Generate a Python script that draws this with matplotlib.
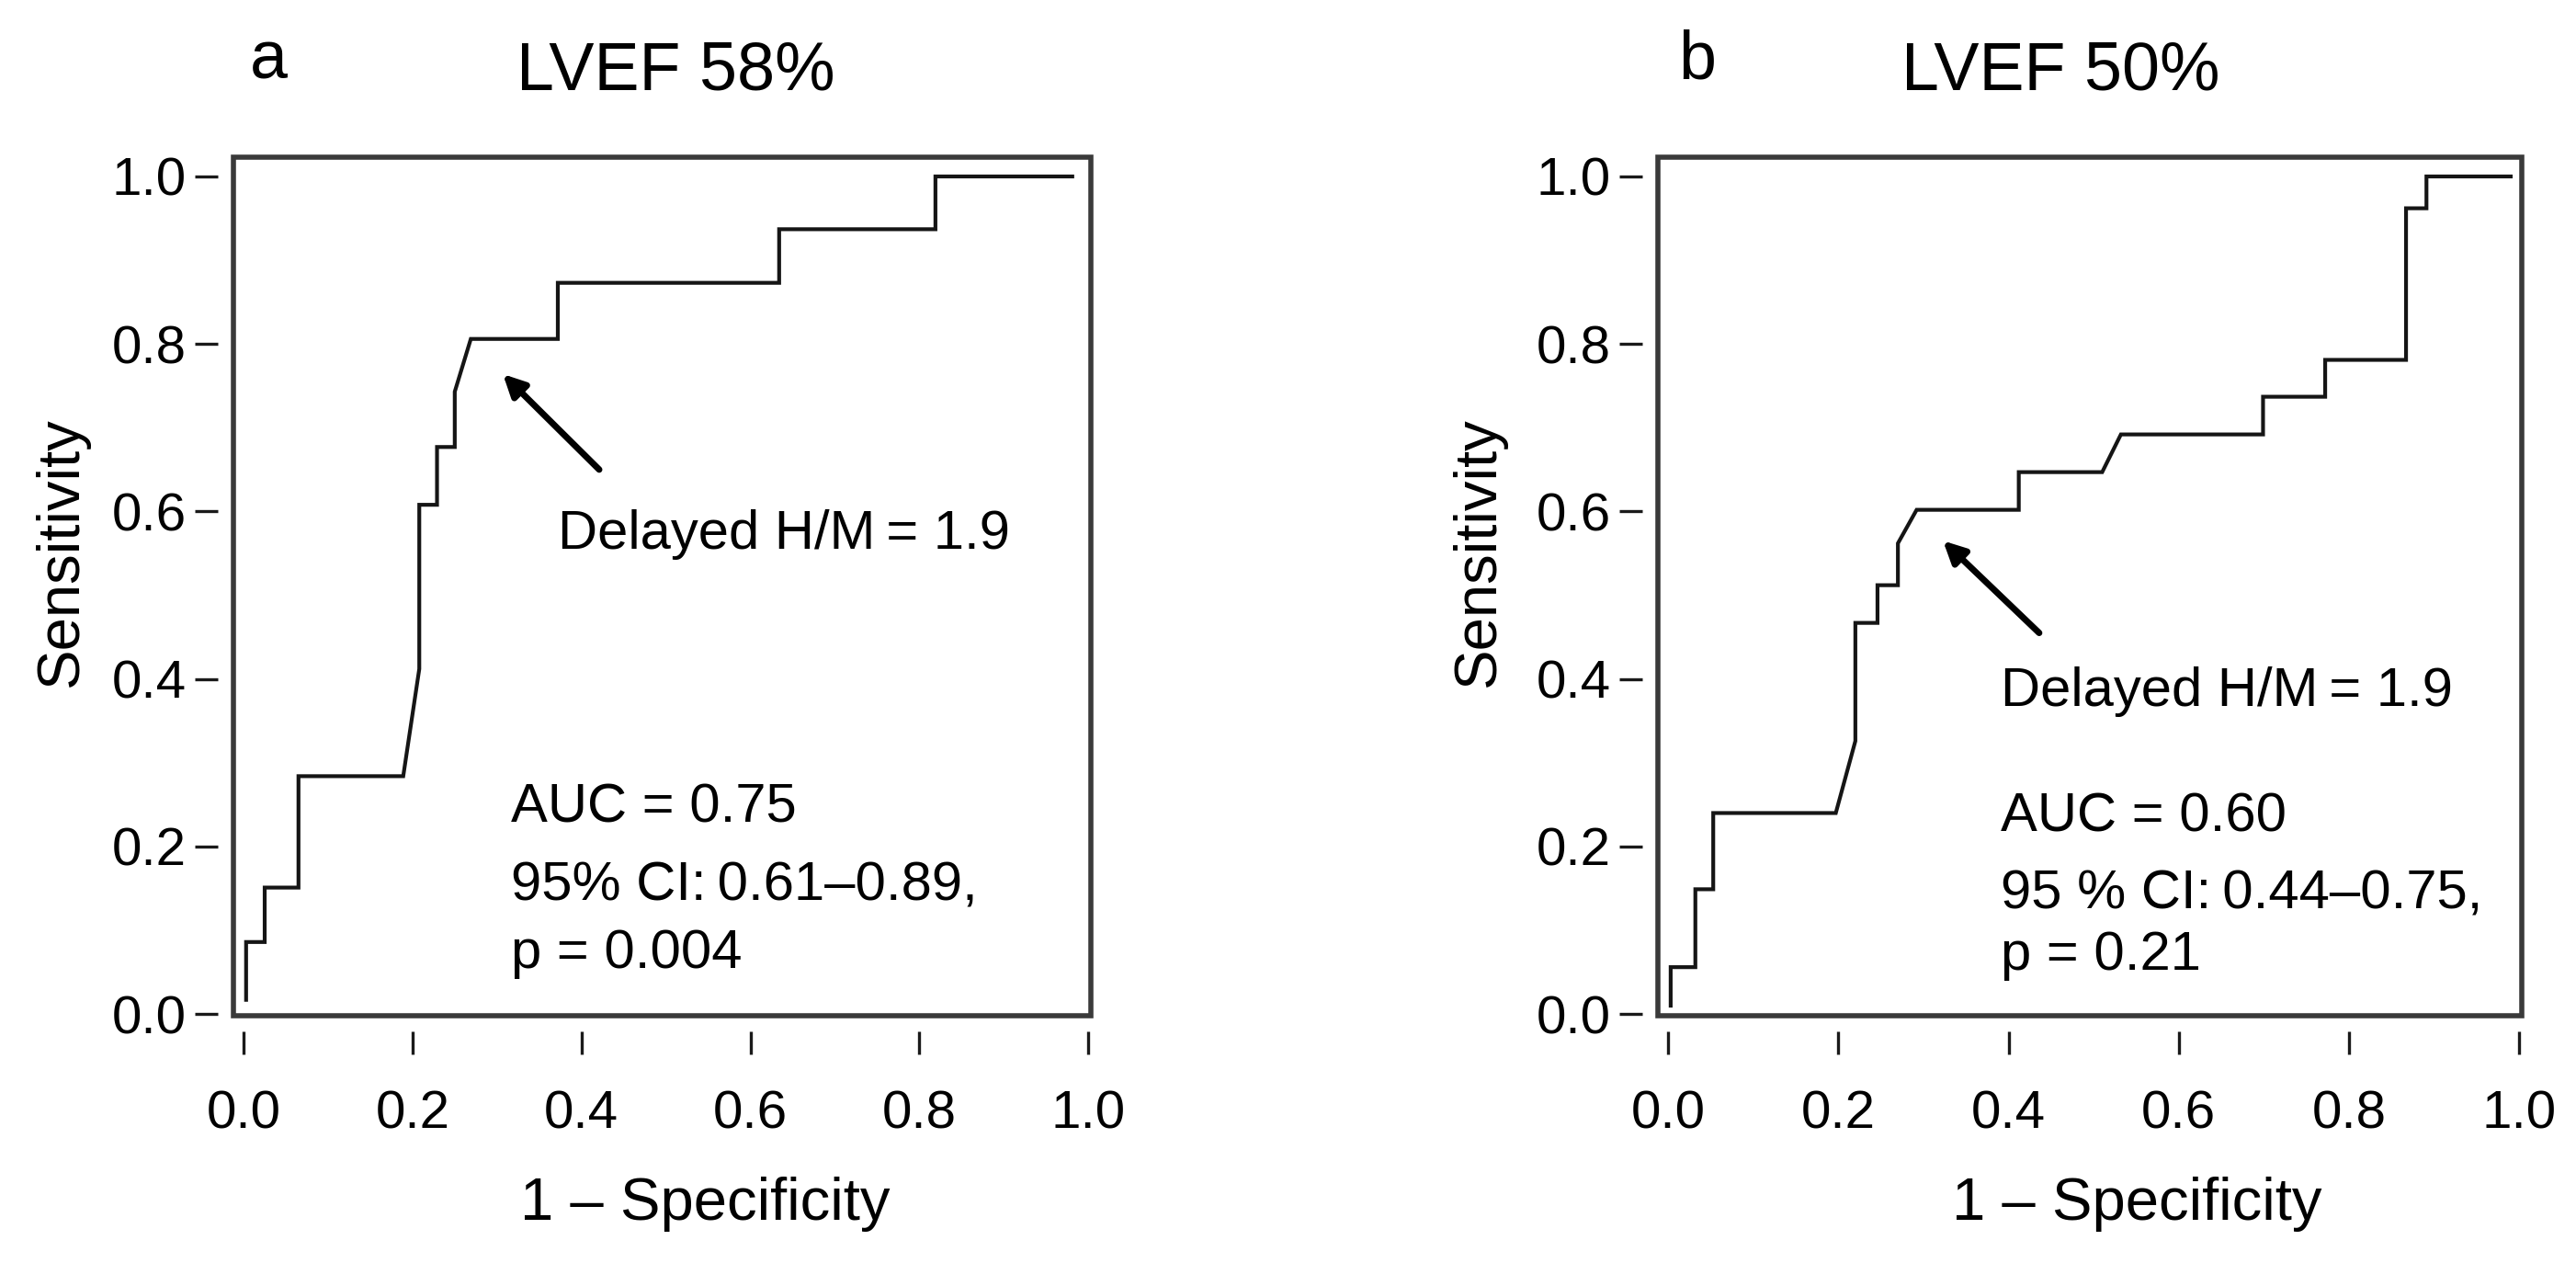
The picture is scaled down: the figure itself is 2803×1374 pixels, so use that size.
import matplotlib
matplotlib.use("Agg")
from matplotlib import pyplot as plt
from matplotlib.patches import Rectangle

plt.rcParams['font.family'] = ['Liberation Sans', 'DejaVu Sans']

# ROC points (1 - specificity, sensitivity)
fpr_a = [0.003, 0.003, 0.025, 0.025, 0.065, 0.065, 0.189, 0.208, 0.208, 0.229, 0.229,
         0.250, 0.250, 0.269, 0.372, 0.372, 0.634, 0.634, 0.819, 0.819, 0.981]
tpr_a = [0.017, 0.086, 0.086, 0.151, 0.151, 0.284, 0.284, 0.412, 0.608, 0.608, 0.677,
         0.677, 0.743, 0.806, 0.806, 0.873, 0.873, 0.937, 0.937, 1.0, 1.0]

fpr_b = [0.003, 0.003, 0.032, 0.032, 0.053, 0.053, 0.197, 0.220, 0.220, 0.246, 0.246,
         0.270, 0.270, 0.292, 0.412, 0.412, 0.510, 0.532, 0.699, 0.699, 0.772, 0.772,
         0.867, 0.867, 0.891, 0.891, 0.990]
tpr_b = [0.010, 0.056, 0.056, 0.149, 0.149, 0.240, 0.240, 0.326, 0.467, 0.467, 0.512,
         0.512, 0.562, 0.602, 0.602, 0.647, 0.647, 0.692, 0.692, 0.737, 0.737, 0.781,
         0.781, 0.962, 0.962, 1.0, 1.0]

ticks = [0.0, 0.2, 0.4, 0.6, 0.8, 1.0]
tick_labels = ['0.0', '0.2', '0.4', '0.6', '0.8', '1.0']

panels = [
    dict(letter='a', title='LVEF 58%', x=fpr_a, y=tpr_a,
         cut_text='Delayed H/M\u2009= 1.9', cut_pos=(0.372, 0.555),
         arrow_head=(0.307, 0.764), arrow_tail=(0.421, 0.650),
         stats=['AUC = 0.75', '95% CI:\u20090.61\u20130.89,', 'p = 0.004'],
         stats_pos=[(0.316, 0.2295), (0.316, 0.1355), (0.316, 0.055)],
         rect=[254 / 2803, 1 - 1105 / 1374, 933 / 2803, 934 / 1374],
         letter_x=272 / 2803, title_x=562 / 2803, xlabel_x=0.55, ylabel_x=-0.168),
    dict(letter='b', title='LVEF 50%', x=fpr_b, y=tpr_b,
         cut_text='Delayed H/M\u2009= 1.9', cut_pos=(0.391, 0.368),
         arrow_head=(0.323, 0.565), arrow_tail=(0.436, 0.455),
         stats=['AUC = 0.60', '95 % CI:\u20090.44\u20130.75,', 'p = 0.21'],
         stats_pos=[(0.391, 0.218), (0.391, 0.126), (0.391, 0.053)],
         rect=[1804 / 2803, 1 - 1105 / 1374, 940 / 2803, 934 / 1374],
         letter_x=1826 / 2803, title_x=2069 / 2803, xlabel_x=0.554, ylabel_x=-0.176),
]

fig = plt.figure(figsize=(28.03, 13.74), dpi=100)

for p in panels:
    ax = fig.add_axes(p['rect'])
    ax.plot(p['x'], p['y'], color='#151515', lw=3.0, solid_joinstyle='miter')
    ax.set_xlim(-0.012, 1.003)
    ax.set_ylim(-0.002, 1.023)

    # detached ticks, box drawn separately
    for side in ['left', 'bottom']:
        ax.spines[side].set_position(('outward', 12))
        ax.spines[side].set_visible(False)
    for side in ['top', 'right']:
        ax.spines[side].set_visible(False)
    ax.add_patch(Rectangle((0, 0), 1, 1, transform=ax.transAxes, fill=False,
                           lw=4.0, edgecolor='#3a3a3a', clip_on=False))

    ax.set_xticks(ticks)
    ax.set_xticklabels(tick_labels)
    ax.set_yticks(ticks)
    ax.set_yticklabels(tick_labels)
    ax.tick_params(axis='both', direction='out', length=18, width=2.4,
                   color='#1a1a1a', labelsize=42)
    ax.tick_params(axis='x', pad=28)
    ax.tick_params(axis='y', pad=7)

    ax.set_xlabel('1 \u2013 Specificity', fontsize=47)
    ax.xaxis.set_label_coords(p['xlabel_x'], -0.187)
    ax.set_ylabel('Sensitivity', fontsize=47)
    ax.yaxis.set_label_coords(p['ylabel_x'], 0.541)

    ax.text(p['cut_pos'][0], p['cut_pos'][1], p['cut_text'], fontsize=43)
    ax.annotate('', xy=p['arrow_head'], xytext=p['arrow_tail'],
                arrowprops=dict(arrowstyle='-|>,head_length=0.7,head_width=0.35',
                                mutation_scale=20, lw=5, color='black',
                                shrinkA=0, shrinkB=0))
    for s, pos in zip(p['stats'], p['stats_pos']):
        ax.text(pos[0], pos[1], s, fontsize=43)

    fig.text(p['letter_x'], 1 - 86 / 1374, p['letter'], fontsize=53, va='baseline')
    fig.text(p['title_x'], 1 - 98 / 1374, p['title'], fontsize=53, va='baseline')

plt.savefig('out.png', dpi=100)
plt.close()
